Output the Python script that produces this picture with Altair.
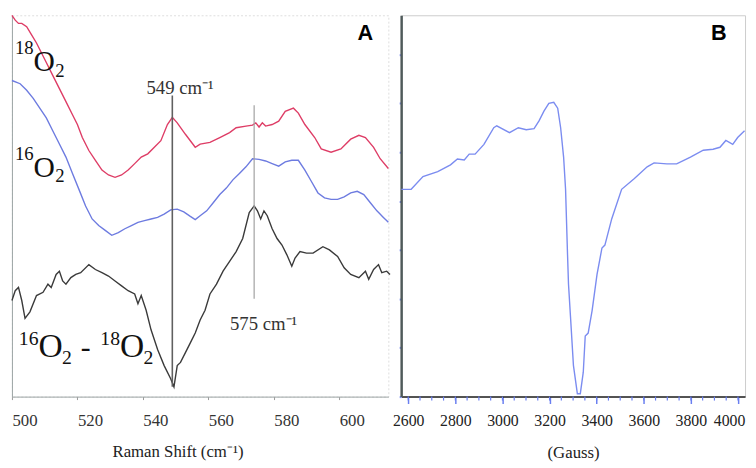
import altair as alt
import pandas as pd

# ---------------- Panel A : Raman spectra ----------------
red_shift = [500.0, 501.0, 502.0, 503.0, 504.5, 506.0, 507.5, 509.0, 510.5, 512.5, 514.5, 516.5,
             518.5, 520.0, 521.5, 523.5, 525.5, 527.5, 529.5, 531.5, 533.5, 535.5, 537.5, 539.5,
             541.5, 543.5, 545.5, 547.5, 549.0, 550.5, 553.0, 556.0, 557.5, 560.5, 563.5, 566.5,
             568.5, 571.5, 573.5, 574.5, 575.5, 576.5, 577.5, 579.5, 581.5, 583.5, 586.0, 587.5,
             589.5, 592.5, 594.5, 597.5, 600.5, 603.5, 606.0, 608.0, 610.5, 612.5, 615.0]
red_int = [390, 385, 381.7, 381.7, 378.3, 370, 361.7, 351.7, 341.7, 328.3, 315, 301.7,
           288.3, 278.3, 265, 251.7, 241.7, 231.7, 226.7, 224.3, 226.7, 231.7, 238.3, 245,
           248.3, 255, 261.7, 278.3, 285.7, 280, 268.3, 255, 258.3, 260, 265, 270,
           275, 276.7, 277.7, 280, 275.7, 280, 276.7, 278.3, 281.7, 291.7, 295, 290,
           278.3, 265, 253.3, 250, 253.3, 263.3, 267.3, 265, 255, 243.3, 233.3]

blue_shift = [500.0, 502.5, 504.5, 506.5, 508.5, 510.5, 512.5, 514.5, 516.5, 518.5, 520.5, 522.5,
              524.5, 526.5, 528.5, 530.5, 532.5, 534.5, 536.5, 538.5, 540.5, 542.5, 544.5, 546.5,
              548.5, 550.5, 552.5, 554.5, 556.0, 557.5, 559.5, 561.5, 563.5, 565.5, 567.5, 569.5,
              571.5, 573.5, 575.5, 577.5, 579.5, 581.5, 583.5, 585.5, 587.5, 589.5, 591.5, 593.5,
              595.5, 597.5, 599.5, 601.5, 603.5, 605.5, 607.5, 609.5, 611.5, 613.5, 615.0]
blue_int = [323.3, 320, 313.3, 305, 295, 285, 271.7, 258.3, 245, 228.3, 211.7, 195,
            181.7, 175, 170, 165, 167.7, 171.7, 175, 178.3, 180, 181.7, 183.3, 186.7,
            191, 191.7, 189, 184.3, 181, 185, 190, 198.3, 206.7, 213.3, 221.7, 228.3,
            235, 243.3, 242.7, 241, 238.3, 235.7, 240, 241.7, 241.7, 231.7, 220, 208.3,
            203.3, 201.7, 201.7, 204.3, 208.3, 210, 206.7, 198.3, 190, 183.3, 178.3]

diff_shift = [500.0, 501.0, 502.0, 503.0, 504.0, 505.5, 507.5, 509.5, 511.0, 512.0, 513.5, 514.5,
              515.5, 516.5, 518.0, 519.5, 521.0, 523.5, 525.5, 527.5, 529.5, 531.5, 533.5, 535.5,
              537.5, 538.5, 539.5, 541.0, 542.5, 544.5, 546.5, 548.5, 549.5, 550.5, 551.5, 553.0,
              554.5, 556.0, 557.5, 559.0, 560.5, 562.5, 564.5, 566.5, 568.5, 570.5, 572.5, 574.0,
              575.0, 576.0, 577.0, 578.0, 579.5, 581.0, 582.5, 584.0, 585.5, 586.5, 588.0, 590.0,
              592.0, 595.0, 597.0, 599.5, 601.5, 603.5, 606.0, 608.0, 609.0, 610.5, 612.0, 613.0,
              614.5, 615.5]
diff_int = [98.3, 108.3, 111.7, 98.3, 80, 86.7, 103.3, 106.7, 115, 111.7, 125, 128.3,
            118.3, 115, 121.7, 125, 126.7, 135, 130, 126.7, 123.3, 118.3, 113.3, 108.3,
            105, 95, 103.3, 88.3, 68.3, 48.3, 31.7, 18.3, 10, 31.7, 35, 45,
            55, 65, 78.3, 88.3, 105, 115, 128.3, 138.3, 148.3, 161.7, 188.3, 195,
            190, 181.7, 190, 185, 171.7, 161.7, 155, 145, 133.3, 141.7, 148.3, 146.7,
            146.7, 153.3, 150, 143.3, 131.7, 125, 121.7, 128.3, 120, 130, 135, 126.7,
            128.3, 125]

peak_x = [549, 574]
peak_top = [308, 298]
peak_bottom = [10, 100]

raman_ticks = [500, 520, 540, 560, 580, 600]

# ---------------- Panel B : EPR spectrum ----------------
gauss = [2570.8, 2612.5, 2662.6, 2725.3, 2779.5, 2808.8, 2838.0, 2858.9, 2883.9, 2921.5, 2963.2,
         2975.8, 3030.0, 3067.6, 3101.0, 3134.4, 3155.3, 3176.2, 3197.0, 3217.9, 3234.6, 3247.1,
         3259.7, 3268.0, 3276.4, 3280.5, 3288.9, 3301.4, 3318.1, 3330.6, 3343.2, 3351.5, 3364.0,
         3380.7, 3401.6, 3422.5, 3435.0, 3464.2, 3506.0, 3560.3, 3614.5, 3643.8, 3698.0, 3739.8,
         3798.2, 3852.5, 3894.3, 3923.5, 3948.5, 3977.8, 3998.6, 4027.9]
epr = [212, 212, 225, 230, 237, 243, 242, 248, 248, 258, 275,
       277, 270, 275, 273, 274, 282, 292, 300, 301, 295, 275,
       245, 212, 145, 115, 82, 32, 3, 3, 25, 62, 65,
       88, 125, 152, 155, 182, 212, 223, 235, 239, 238, 238,
       245, 252, 253, 255, 262, 258, 265, 272]

gauss_ticks = [2600, 2800, 3000, 3200, 3400, 3600, 3800, 4000]
gauss_minor = [2600 + 50 * k for k in range(29)]

# ---------------- annotation text ----------------
ann_text = ["18", "O", "2", "16", "O", "2", "16", "O", "2", "-", "18", "O", "2"]
ann_x = [500.9, 506.6, 513.2, 500.9, 506.6, 513.2, 502.1, 508.1, 515.3, 521.0, 527.0, 533.0, 540.2]
ann_y = [350, 333, 327, 242, 225, 220, 53, 41, 33, 41, 53, 41, 33]
ann_size = [19, 30, 19, 19, 30, 19, 20, 34, 20, 30, 20, 34, 20]

SERIF = "Liberation Serif, Times New Roman, serif"
SANS = "Liberation Sans, Arial, sans-serif"
H = 387

a_df = pd.concat([
    pd.DataFrame({"shift": red_shift, "intensity": red_int, "s": "18O2"}),
    pd.DataFrame({"shift": blue_shift, "intensity": blue_int, "s": "16O2"}),
    pd.DataFrame({"shift": diff_shift, "intensity": diff_int, "s": "diff"}),
])

xA = alt.X("shift:Q", scale=alt.Scale(domain=[500, 615], nice=False, zero=False),
           axis=alt.Axis(values=raman_ticks, labelAlign="left", labelFont=SERIF, labelFontSize=17,
                         labelColor="#333", tickSize=3, tickColor="#999", domainColor="#9aa3a3",
                         labelPadding=13, title="Raman Shift (cm⁻¹)", titleFont=SERIF,
                         titleFontSize=17, titleFontWeight="normal", titleColor="#222",
                         titleX=168, titleY=61, titleBaseline="alphabetic", grid=False))
yA = alt.Y("intensity:Q", scale=alt.Scale(domain=[0, 390], nice=False, zero=False),
           axis=alt.Axis(labels=False, ticks=False, title=None, domainColor="#9aa3a3", grid=False))

lines_a = alt.Chart(a_df).mark_line(strokeWidth=1.4).encode(
    x=xA, y=yA,
    color=alt.Color("s:N", scale=alt.Scale(domain=["18O2", "16O2", "diff"],
                                           range=["#de3d66", "#6d7be0", "#3a3a3a"]), legend=None),
    detail="s:N")

rule_df = pd.DataFrame({"x": peak_x, "top": peak_top, "bottom": peak_bottom})
rule1 = alt.Chart(rule_df.iloc[[0]]).mark_rule(color="#606060", strokeWidth=1.6).encode(
    x="x:Q", y="top:Q", y2="bottom:Q")
rule2 = alt.Chart(rule_df.iloc[[1]]).mark_rule(color="#a8a8a8", strokeWidth=1.3).encode(
    x="x:Q", y="top:Q", y2="bottom:Q")

peak_lbl = pd.DataFrame({"x": [541.1, 566.6], "y": [310, 68], "t": ["549 cm⁻¹", "575 cm⁻¹"]})
peak_text = alt.Chart(peak_lbl).mark_text(align="left", baseline="alphabetic", font=SERIF,
                                           fontSize=19, color="#333").encode(
    x="x:Q", y="y:Q", text="t:N")

ann_df = pd.DataFrame({"t": ann_text, "x": ann_x, "y": ann_y, "size": ann_size})
ann = alt.Chart(ann_df).mark_text(align="left", baseline="alphabetic", font=SERIF,
                                  color="#111").encode(
    x="x:Q", y="y:Q", text="t:N", size=alt.Size("size:Q", scale=None, legend=None))

letA = alt.Chart(pd.DataFrame({"x": [608], "y": [372], "t": ["A"]})).mark_text(
    font=SANS, fontWeight="bold", fontSize=22, color="#000").encode(
    x="x:Q", y="y:Q", text="t:N")

panelA = alt.layer(lines_a, rule1, rule2, peak_text, ann, letA).properties(
    width=382, height=H, view=alt.ViewBackground(stroke="#dddddd", strokeDash=[2, 2]))

# ---------------- Panel B ----------------
b_df = pd.DataFrame({"gauss": gauss, "signal": epr})
xB = alt.X("gauss:Q", scale=alt.Scale(domain=[2570, 4030], nice=False, zero=False),
           axis=alt.Axis(values=gauss_ticks, format="d", labelFont=SERIF, labelFontSize=16,
                         labelColor="#222", tickSize=7, tickWidth=1.5, tickColor="#6a7ff0",
                         domainColor="#222", domainWidth=1.5, labelPadding=9,
                         labelOffset={"condition": {"test": "datum.value >= 4000", "value": -9},
                                      "value": 0},
                         title="(Gauss)", titleFont=SERIF, titleFontSize=17,
                         titleFontWeight="normal", titleColor="#222", titleY=62,
                         titleBaseline="alphabetic", grid=False))
yB = alt.Y("signal:Q", scale=alt.Scale(domain=[0, 390], nice=False, zero=False),
           axis=alt.Axis(labels=False, title=None, values=list(range(0, 390, 25)),
                         tickColor="#7b8cf0", tickSize=2, tickWidth=2,
                         domainColor="#4f5a5a", domainWidth=2.5, grid=False))

line_b = alt.Chart(b_df).mark_line(color="#7b8cf0", strokeWidth=1.4).encode(x=xB, y=yB)

minor_df = pd.DataFrame({"g": gauss_minor})
minor = alt.Chart(minor_df).mark_rule(color="#6a7ff0", strokeWidth=1.2).encode(
    x=alt.X("g:Q"), y=alt.value(H), y2=alt.value(H + 4))

letB = alt.Chart(pd.DataFrame({"x": [3919], "y": [372], "t": ["B"]})).mark_text(
    font=SANS, fontWeight="bold", fontSize=22, color="#000").encode(
    x="x:Q", y="y:Q", text="t:N")

panelB = alt.layer(line_b, minor, letB).properties(
    width=349, height=H, view=alt.ViewBackground(stroke="#cccccc"))

chart = alt.hconcat(panelA, panelB, spacing=13, bounds="flush").properties(
    padding=0, background="white")

chart.save("out.html", embed_options={"renderer": "svg", "actions": False})
